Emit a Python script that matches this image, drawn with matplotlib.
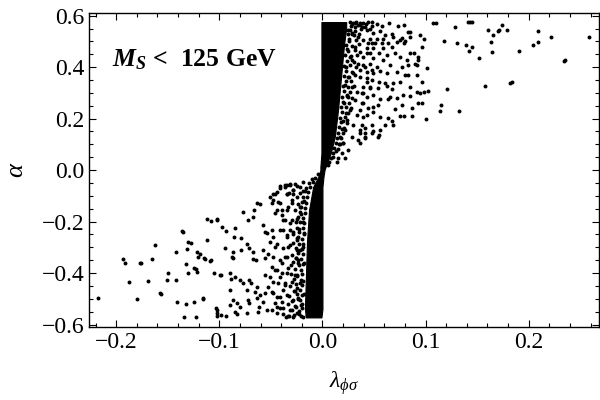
import numpy as np
import matplotlib.pyplot as plt
from matplotlib.ticker import MultipleLocator

plt.rcParams['font.family'] = 'Liberation Serif'
plt.rcParams['mathtext.fontset'] = 'custom'
plt.rcParams['mathtext.rm'] = 'Liberation Serif'
plt.rcParams['mathtext.it'] = 'Liberation Serif:italic'
plt.rcParams['mathtext.bf'] = 'Liberation Serif:bold'
plt.rcParams['mathtext.bfit'] = 'Liberation Serif:bold:italic'

# (lambda_phi_sigma, alpha)
upper_far = [(0.1073, 0.572), (0.1097, 0.572), (0.1283, 0.557), (0.1413, 0.576), (0.1432, 0.576),
             (0.1451, 0.576), (0.1740, 0.564), (0.1604, 0.545), (0.1700, 0.541), (0.1716, 0.543),
             (0.1788, 0.545), (0.1652, 0.525), (0.2089, 0.541), (0.2216, 0.518), (0.2584, 0.518),
             (0.1177, 0.502), (0.1303, 0.494), (0.1390, 0.487), (0.1449, 0.479), (0.1425, 0.463),
             (0.1633, 0.498), (0.1643, 0.459), (0.2041, 0.487), (0.2089, 0.498), (0.1905, 0.463),
             (0.1517, 0.436), (0.2345, 0.424), (0.2357, 0.426), (0.1820, 0.339), (0.1834, 0.341),
             (0.1575, 0.327), (0.1206, 0.316), (0.1148, 0.254), (0.1138, 0.230), (0.1322, 0.230),
             (0.0963, 0.479), (0.0985, 0.511)]

upper_mid = [(0.0381, 0.557), (0.0429, 0.544), (0.0478, 0.561), (0.0533, 0.567), (0.0575, 0.561),
             (0.0650, 0.570), (0.0737, 0.561), (0.0792, 0.563), (0.0494, 0.531), (0.0559, 0.541),
             (0.0608, 0.524), (0.0672, 0.528), (0.0688, 0.518), (0.0591, 0.511), (0.0527, 0.511),
             (0.0462, 0.511), (0.0769, 0.515), (0.0834, 0.537), (0.0850, 0.518), (0.0947, 0.524),
             (0.0446, 0.492), (0.0510, 0.492), (0.0575, 0.492), (0.0640, 0.492), (0.0721, 0.496),
             (0.0802, 0.502), (0.0672, 0.479), (0.0494, 0.473), (0.0429, 0.473), (0.0591, 0.473),
             (0.0462, 0.456), (0.0552, 0.453), (0.0624, 0.447), (0.0705, 0.456), (0.0850, 0.453),
             (0.0889, 0.456), (0.0922, 0.440), (0.1012, 0.395), (0.0397, 0.440), (0.0494, 0.434),
             (0.0591, 0.427), (0.0753, 0.440), (0.0818, 0.427), (0.0899, 0.414), (0.0931, 0.427),
             (0.0397, 0.408), (0.0462, 0.414), (0.0527, 0.401), (0.0656, 0.408), (0.0769, 0.401),
             (0.0834, 0.408), (0.0915, 0.408), (0.0364, 0.388), (0.0429, 0.382), (0.0494, 0.376),
             (0.0559, 0.386), (0.0624, 0.378), (0.0721, 0.382), (0.0802, 0.369), (0.0825, 0.369),
             (0.0915, 0.369), (0.0429, 0.356), (0.0478, 0.350), (0.0552, 0.343), (0.0608, 0.337),
             (0.0682, 0.337), (0.0753, 0.343), (0.0964, 0.343), (0.0397, 0.324), (0.0462, 0.321),
             (0.0543, 0.317), (0.0624, 0.326), (0.0672, 0.315), (0.0850, 0.324), (0.0381, 0.298),
             (0.0429, 0.285), (0.0494, 0.291), (0.0559, 0.278), (0.0656, 0.285), (0.0721, 0.282),
             (0.0785, 0.291), (0.0915, 0.304), (0.0947, 0.300), (0.0980, 0.304), (0.1022, 0.307),
             (0.0850, 0.288), (0.0397, 0.259), (0.0494, 0.246), (0.0543, 0.253), (0.0640, 0.278),
             (0.0705, 0.236), (0.0769, 0.253), (0.0867, 0.240), (0.0922, 0.262), (0.0964, 0.262),
             (0.0364, 0.233), (0.0429, 0.214), (0.0494, 0.227), (0.0559, 0.207), (0.0640, 0.201),
             (0.0672, 0.192), (0.0753, 0.210), (0.0792, 0.210), (0.0867, 0.210), (0.1006, 0.197),
             (0.0381, 0.175), (0.0413, 0.162), (0.0478, 0.175), (0.0559, 0.156), (0.0608, 0.175),
             (0.0688, 0.175), (0.0364, 0.143), (0.0413, 0.143), (0.0478, 0.143), (0.0543, 0.130),
             (0.0364, 0.104), (0.0413, 0.130), (0.0219, 0.046), (0.0202, 0.104), (0.0413, 0.124),
             (0.0489, 0.152), (0.0550, 0.137), (0.0752, 0.505), (0.0791, 0.492), (0.0850, 0.537)]

upper_near = [(0.0315, 0.570), (0.0364, 0.563), (0.0412, 0.557), (0.0461, 0.550), (0.0283, 0.531),
              (0.0348, 0.518), (0.0396, 0.505), (0.0477, 0.492), (0.0315, 0.479), (0.0364, 0.460),
              (0.0429, 0.453), (0.0283, 0.427), (0.0348, 0.414), (0.0412, 0.401), (0.0477, 0.388),
              (0.0299, 0.376), (0.0364, 0.363), (0.0429, 0.343), (0.0283, 0.324), (0.0332, 0.304),
              (0.0396, 0.298), (0.0461, 0.317), (0.0251, 0.285), (0.0315, 0.272), (0.0380, 0.259),
              (0.0445, 0.240), (0.0267, 0.233), (0.0332, 0.214), (0.0396, 0.207), (0.0234, 0.194),
              (0.0299, 0.175), (0.0364, 0.156), (0.0218, 0.156), (0.0283, 0.130), (0.0348, 0.117),
              (0.0202, 0.104), (0.0251, 0.078), (0.0186, 0.065), (0.0154, 0.046), (0.0137, 0.033),
              (0.0270, 0.575), (0.0300, 0.572), (0.0330, 0.575), (0.0360, 0.570), (0.0390, 0.573),
              (0.0280, 0.560), (0.0320, 0.555), (0.0250, 0.545), (0.0290, 0.530), (0.0260, 0.510),
              (0.0240, 0.470), (0.0270, 0.440), (0.0230, 0.400), (0.0250, 0.360), (0.0220, 0.330),
              (0.0240, 0.290), (0.0210, 0.260), (0.0230, 0.220), (0.0200, 0.190), (0.0190, 0.160),
              (0.0170, 0.130), (0.0160, 0.100), (0.0130, 0.075), (0.0100, 0.050), (0.0060, 0.030)]

upper_edge = [(0.0285, 0.566), (0.0345, 0.563), (0.0420, 0.568), (0.0480, 0.574), (0.0440, 0.575),
              (0.0268, 0.546), (0.0312, 0.541), (0.0372, 0.548), (0.0243, 0.527), (0.0305, 0.523),
              (0.0358, 0.529), (0.0262, 0.503), (0.0327, 0.507), (0.0229, 0.486), (0.0289, 0.482),
              (0.0352, 0.489), (0.0251, 0.464), (0.0317, 0.468), (0.0221, 0.446), (0.0278, 0.443),
              (0.0338, 0.449), (0.0242, 0.424), (0.0303, 0.421), (0.0209, 0.405), (0.0266, 0.408),
              (0.0329, 0.402), (0.0232, 0.386), (0.0288, 0.383), (0.0212, 0.366), (0.0259, 0.362),
              (0.0318, 0.368), (0.0224, 0.345), (0.0281, 0.347), (0.0198, 0.325), (0.0247, 0.322),
              (0.0306, 0.328), (0.0213, 0.306), (0.0268, 0.303), (0.0188, 0.284), (0.0238, 0.287),
              (0.0291, 0.282), (0.0201, 0.266), (0.0258, 0.262), (0.0179, 0.244), (0.0228, 0.247),
              (0.0279, 0.243), (0.0193, 0.226), (0.0246, 0.223), (0.0171, 0.204), (0.0219, 0.207),
              (0.0182, 0.186), (0.0238, 0.183), (0.0161, 0.166), (0.0208, 0.163), (0.0152, 0.146),
              (0.0198, 0.143), (0.0141, 0.126), (0.0183, 0.123), (0.0131, 0.106), (0.0172, 0.103),
              (0.0112, 0.086), (0.0148, 0.083), (0.0098, 0.066), (0.0079, 0.046), (0.0058, 0.020)]

lower_far = [(-0.2173, -0.496), (-0.1930, -0.344), (-0.1910, -0.360), (-0.1880, -0.433),
             (-0.1770, -0.359), (-0.1760, -0.361), (-0.1794, -0.502), (-0.1688, -0.430),
             (-0.1649, -0.344), (-0.1620, -0.290), (-0.1576, -0.479), (-0.1566, -0.481),
             (-0.1493, -0.399), (-0.1503, -0.426), (-0.1416, -0.426), (-0.1425, -0.317),
             (-0.1406, -0.512), (-0.1362, -0.238), (-0.1352, -0.240), (-0.1310, -0.305),
             (-0.1300, -0.278), (-0.1270, -0.282), (-0.1319, -0.364), (-0.1300, -0.399),
             (-0.1319, -0.519), (-0.1338, -0.569), (-0.1231, -0.569), (-0.1241, -0.511),
             (-0.1241, -0.379), (-0.1222, -0.383), (-0.1212, -0.395), (-0.1212, -0.317),
             (-0.1202, -0.336), (-0.1183, -0.325), (-0.1149, -0.343), (-0.1139, -0.345),
             (-0.1124, -0.189), (-0.1085, -0.197), (-0.1115, -0.270), (-0.1095, -0.352),
             (-0.1076, -0.348), (-0.1056, -0.399), (-0.1163, -0.499), (-0.1154, -0.496),
             (-0.1037, -0.534), (-0.1018, -0.542), (-0.1018, -0.565), (-0.1018, -0.189),
             (-0.0998, -0.406), (-0.1021, -0.192), (-0.0972, -0.220), (-0.0940, -0.237),
             (-0.0849, -0.224), (-0.0775, -0.164), (-0.0859, -0.259), (-0.0794, -0.265),
             (-0.0946, -0.301), (-0.0877, -0.339), (-0.0867, -0.341), (-0.0985, -0.406),
             (-0.0865, -0.317), (-0.0785, -0.311), (-0.0730, -0.285), (-0.0726, -0.194),
             (-0.0678, -0.181), (-0.0662, -0.155), (-0.0639, -0.126), (-0.0607, -0.133),
             (-0.0710, -0.304), (-0.0671, -0.317), (-0.0645, -0.349), (-0.0678, -0.347),
             (-0.0898, -0.401), (-0.0849, -0.414), (-0.0882, -0.421), (-0.0801, -0.427),
             (-0.0768, -0.440), (-0.0710, -0.427), (-0.0694, -0.437), (-0.0639, -0.453),
             (-0.0730, -0.466), (-0.0655, -0.472), (-0.0898, -0.466), (-0.0865, -0.505),
             (-0.0898, -0.524), (-0.0833, -0.518), (-0.0801, -0.531), (-0.1021, -0.554),
             (-0.0979, -0.563), (-0.0937, -0.567), (-0.0849, -0.550), (-0.0833, -0.559),
             (-0.0736, -0.556), (-0.0720, -0.505), (-0.0710, -0.518), (-0.0639, -0.498),
             (-0.0613, -0.531), (-0.0607, -0.485), (-0.0574, -0.511), (-0.0623, -0.550),
             (-0.0542, -0.544)]

lower_mid = [(-0.0574, -0.214), (-0.0558, -0.239), (-0.0542, -0.246), (-0.0493, -0.233),
             (-0.0477, -0.259), (-0.0510, -0.278), (-0.0461, -0.298), (-0.0574, -0.311),
             (-0.0526, -0.324), (-0.0558, -0.343), (-0.0493, -0.375), (-0.0445, -0.388),
             (-0.0510, -0.104), (-0.0477, -0.116), (-0.0461, -0.091), (-0.0412, -0.129),
             (-0.0412, -0.071), (-0.0364, -0.065), (-0.0315, -0.058), (-0.0348, -0.091),
             (-0.0445, -0.155), (-0.0396, -0.175), (-0.0364, -0.194), (-0.0558, -0.408),
             (-0.0510, -0.414), (-0.0477, -0.434), (-0.0526, -0.453), (-0.0558, -0.479),
             (-0.0493, -0.472), (-0.0445, -0.492), (-0.0461, -0.518), (-0.0493, -0.544),
             (-0.0445, -0.556), (-0.0412, -0.537), (-0.0396, -0.511), (-0.0380, -0.466),
             (-0.0364, -0.440), (-0.0412, -0.414), (-0.0348, -0.401), (-0.0396, -0.362),
             (-0.0364, -0.336), (-0.0332, -0.298), (-0.0348, -0.259), (-0.0380, -0.233),
             (-0.0315, -0.233), (-0.0299, -0.194), (-0.0348, -0.155), (-0.0299, -0.129),
             (-0.0283, -0.091), (-0.0267, -0.052), (-0.0410, -0.062), (-0.0340, -0.058),
             (-0.0320, -0.089), (-0.0290, -0.078)]

lower_near = [(-0.0478, -0.091), (-0.0445, -0.084), (-0.0494, -0.129), (-0.0429, -0.123),
              (-0.0461, -0.168), (-0.0397, -0.155), (-0.0364, -0.058), (-0.0316, -0.052),
              (-0.0348, -0.091), (-0.0283, -0.078), (-0.0300, -0.117), (-0.0251, -0.104),
              (-0.0219, -0.065), (-0.0186, -0.045), (-0.0332, -0.142), (-0.0267, -0.155),
              (-0.0219, -0.142), (-0.0381, -0.194), (-0.0316, -0.207), (-0.0251, -0.188),
              (-0.0413, -0.233), (-0.0348, -0.252), (-0.0283, -0.240), (-0.0235, -0.259),
              (-0.0445, -0.285), (-0.0381, -0.304), (-0.0316, -0.291), (-0.0251, -0.311),
              (-0.0478, -0.336), (-0.0413, -0.349), (-0.0348, -0.336), (-0.0283, -0.356),
              (-0.0235, -0.349), (-0.0461, -0.388), (-0.0397, -0.401), (-0.0332, -0.382),
              (-0.0267, -0.408), (-0.0429, -0.440), (-0.0364, -0.446), (-0.0300, -0.433),
              (-0.0251, -0.459), (-0.0478, -0.479), (-0.0413, -0.492), (-0.0348, -0.485),
              (-0.0283, -0.505), (-0.0235, -0.498), (-0.0445, -0.531), (-0.0381, -0.537),
              (-0.0316, -0.543), (-0.0251, -0.556), (-0.0203, -0.537), (-0.0154, -0.563),
              (-0.0250, -0.060), (-0.0220, -0.090), (-0.0240, -0.130), (-0.0210, -0.170),
              (-0.0260, -0.200), (-0.0230, -0.230), (-0.0250, -0.270), (-0.0220, -0.310),
              (-0.0260, -0.340), (-0.0230, -0.370), (-0.0250, -0.410), (-0.0220, -0.440),
              (-0.0270, -0.470), (-0.0240, -0.500), (-0.0260, -0.530), (-0.0230, -0.560),
              (-0.0190, -0.080), (-0.0180, -0.120), (-0.0190, -0.200), (-0.0180, -0.250),
              (-0.0190, -0.300), (-0.0180, -0.360), (-0.0190, -0.430), (-0.0180, -0.480),
              (-0.0200, -0.520), (-0.0190, -0.570), (-0.0290, -0.570), (-0.0320, -0.565),
              (-0.0350, -0.570), (-0.0380, -0.560), (-0.0130, -0.050), (-0.0160, -0.070),
              (-0.0100, -0.035)]

lower_edge = [(-0.0212, -0.566), (-0.0274, -0.561), (-0.0336, -0.567), (-0.0231, -0.546),
              (-0.0298, -0.543), (-0.0205, -0.524), (-0.0262, -0.527), (-0.0338, -0.521),
              (-0.0222, -0.505), (-0.0291, -0.508), (-0.0201, -0.486), (-0.0249, -0.483),
              (-0.0322, -0.488), (-0.0215, -0.465), (-0.0279, -0.468), (-0.0198, -0.446),
              (-0.0256, -0.443), (-0.0318, -0.449), (-0.0211, -0.425), (-0.0272, -0.422),
              (-0.0196, -0.405), (-0.0247, -0.408), (-0.0309, -0.402), (-0.0208, -0.386),
              (-0.0266, -0.383), (-0.0193, -0.365), (-0.0241, -0.362), (-0.0302, -0.368),
              (-0.0205, -0.346), (-0.0259, -0.343), (-0.0189, -0.325), (-0.0236, -0.322),
              (-0.0296, -0.328), (-0.0201, -0.306), (-0.0254, -0.303), (-0.0186, -0.285),
              (-0.0232, -0.288), (-0.0289, -0.282), (-0.0197, -0.266), (-0.0248, -0.263),
              (-0.0182, -0.245), (-0.0226, -0.242), (-0.0281, -0.248), (-0.0193, -0.226),
              (-0.0242, -0.223), (-0.0176, -0.205), (-0.0221, -0.202), (-0.0187, -0.186),
              (-0.0236, -0.183), (-0.0171, -0.166), (-0.0213, -0.163), (-0.0166, -0.146),
              (-0.0207, -0.143), (-0.0158, -0.126), (-0.0198, -0.123), (-0.0149, -0.106),
              (-0.0187, -0.103), (-0.0136, -0.086), (-0.0174, -0.083), (-0.0121, -0.066),
              (-0.0094, -0.046), (-0.0068, -0.030), (-0.0041, -0.015)]

# edges of the solid black band
core_alpha = [-0.572, -0.54, -0.41, -0.28, -0.155, -0.065, -0.026, 0.0, 0.012,
              0.065, 0.13, 0.23, 0.36, 0.49, 0.55, 0.575]
core_left = [-0.016, -0.017, -0.016, -0.015, -0.013, -0.009, -0.004, -0.002, -0.002,
             -0.001, -0.001, -0.001, -0.001, -0.001, -0.001, -0.001]
core_right = [-0.001, 0.0, 0.0, 0.0, 0.0, 0.0, 0.001, 0.002, 0.003,
              0.008, 0.012, 0.015, 0.018, 0.021, 0.023, 0.023]

xticks = [-0.2, -0.1, 0.0, 0.1, 0.2]
yticks = [-0.6, -0.4, -0.2, 0.0, 0.2, 0.4, 0.6]

fig = plt.figure(figsize=(6, 4), dpi=100)
ax = fig.add_axes([0.149, 0.183, 0.849, 0.785])

ax.fill_betweenx(core_alpha, core_left, core_right, color='black', lw=0.8)
for pts in [upper_far, upper_mid, upper_near, upper_edge,
            lower_far, lower_mid, lower_near, lower_edge]:
    lam, alpha = np.array(pts).T
    ax.scatter(lam, alpha, s=8, c='black', linewidths=0)

ax.set_xlim(-0.226, 0.268)
ax.set_ylim(-0.6085, 0.611)
ax.set_xticks(xticks)
ax.set_xticklabels([f'{v:.1f}'.replace('-', '\u2212') for v in xticks])
ax.set_yticks(yticks)
ax.set_yticklabels([f'{v:.1f}'.replace('-', '\u2212') for v in yticks])
ax.xaxis.set_minor_locator(MultipleLocator(0.02))
ax.yaxis.set_minor_locator(MultipleLocator(0.05))
ax.tick_params(which='both', direction='in', top=True, right=True, labelsize=17)
ax.tick_params(which='major', length=5, width=0.8)
ax.tick_params(which='minor', length=3, width=0.8)
for sp in ax.spines.values():
    sp.set_linewidth(1.0)

ax.set_xlabel(r'$\lambda_{\phi\sigma}$', fontsize=17, labelpad=12)
ax.set_ylabel(r'$\alpha$', fontsize=19, labelpad=10)
ax.text(-0.204, 0.401, r'$\mathbfit{M_S}$ <  125 GeV', fontsize=18.5, fontweight='bold',
        va='baseline')

fig.savefig('out.png', dpi=100)
